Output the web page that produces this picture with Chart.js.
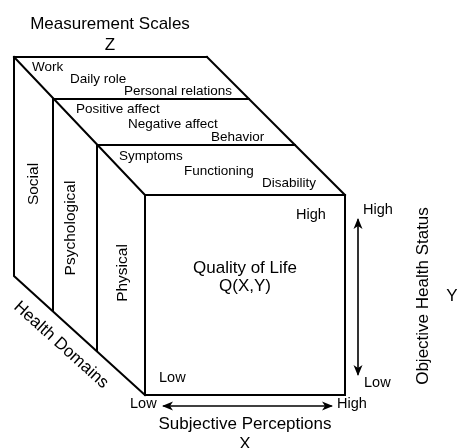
<!DOCTYPE html>
<html>
<head>
<meta charset="utf-8">
<script src="https://cdn.jsdelivr.net/npm/chart.js@4"></script>
<style>
  body { margin: 0; background: #fff; }
  canvas { display: block; }
</style>
</head>
<body>
<canvas id="cube" width="457" height="448"></canvas>
<script>
// Diagram content
const domains = ['Social', 'Psychological', 'Physical'];
const scaleItems = [
    ['Work', 'Daily role', 'Personal relations'],
    ['Positive affect', 'Negative affect', 'Behavior'],
    ['Symptoms', 'Functioning', 'Disability']
];
const levels = ['Low', 'High'];
const zTitle = ['Measurement Scales', 'Z'];
const xTitle = ['Subjective Perceptions', 'X'];
const yTitle = ['Objective Health Status', 'Y'];
const domainTitle = 'Health Domains';
const centreLabel = ['Quality of Life', 'Q(X,Y)'];

// Cube geometry (diagram units = canvas pixels)
const layerLeft = [14, 53, 97, 145];     // left edge of each slab
const layerTop = [57, 99, 145, 195];     // top edge of each slab
const layerBottom = [276, 311, 350, 395];
const layerRight = [207, 249, 295, 345];

const FONT = "'Liberation Sans', Arial, sans-serif";

function seg(points, width) {
    return {
        data: points.map(p => ({ x: p[0], y: p[1] })),
        showLine: true,
        borderColor: '#000',
        borderWidth: width || 2,
        pointRadius: 0,
        borderJoinStyle: 'miter',
        borderCapStyle: 'square',
        clip: false
    };
}

const datasets = [];
// back outline
datasets.push(seg([[layerRight[0], layerTop[0]], [layerLeft[0], layerTop[0]], [layerLeft[0], layerBottom[0]], [layerLeft[3], layerBottom[3]]]));
datasets.push(seg([[layerLeft[0], layerTop[0]], [layerLeft[3], layerTop[3]]]));
datasets.push(seg([[layerRight[0], layerTop[0]], [layerRight[3], layerTop[3]]]));
// inner slabs
for (let i = 1; i < 3; i++) {
    datasets.push(seg([[layerRight[i], layerTop[i]], [layerLeft[i], layerTop[i]], [layerLeft[i], layerBottom[i]]]));
}
// front face
datasets.push(seg([[layerLeft[3], layerTop[3]], [layerRight[3], layerTop[3]], [layerRight[3], layerBottom[3]], [layerLeft[3], layerBottom[3]], [layerLeft[3], layerTop[3]]]));
// axis arrows
const xArrow = [[164, 406], [331, 406]];
const yArrow = [[358, 220], [358, 374]];
datasets.push(seg(xArrow, 1.6));
datasets.push(seg(yArrow, 1.6));

// Text and arrowheads drawn on top through the scales
const labelPlugin = {
    id: 'labels',
    afterDatasetsDraw(chart) {
        const ctx = chart.ctx;
        const sx = chart.scales.x, sy = chart.scales.y;
        const px = v => sx.getPixelForValue(v);
        const py = v => sy.getPixelForValue(v);

        function text(str, x, y, size, align, rot) {
            ctx.save();
            ctx.translate(px(x), py(y));
            if (rot) ctx.rotate(rot * Math.PI / 180);
            ctx.font = size + 'px ' + FONT;
            ctx.fillStyle = '#000';
            ctx.textAlign = align || 'left';
            ctx.textBaseline = 'middle';
            ctx.fillText(str, 0, 0);
            ctx.restore();
        }

        function head(tip, from) {
            const x = px(tip[0]), y = py(tip[1]);
            const a = Math.atan2(y - py(from[1]), x - px(from[0]));
            ctx.save();
            ctx.translate(x, y);
            ctx.rotate(a);
            ctx.beginPath();
            ctx.moveTo(2, 0);
            ctx.lineTo(-9, -4.5);
            ctx.lineTo(-6, 0);
            ctx.lineTo(-9, 4.5);
            ctx.closePath();
            ctx.fillStyle = '#000';
            ctx.fill();
            ctx.restore();
        }

        head(xArrow[0], xArrow[1]);
        head(xArrow[1], xArrow[0]);
        head(yArrow[0], yArrow[1]);
        head(yArrow[1], yArrow[0]);

        // titles
        text(zTitle[0], 110, 24, 17, 'center');
        text(zTitle[1], 110, 45, 17, 'center');
        text(xTitle[0], 245, 424, 17, 'center');
        text(xTitle[1], 245, 444, 17, 'center');
        text(yTitle[0], 423, 296, 17, 'center', -90);
        text(yTitle[1], 452, 296, 17, 'center');
        text(domainTitle, 61, 345, 17, 'center', 42);

        // measurement scales on the top faces
        const itemPos = [
            [[32, 67], [70, 79], [124, 91]],
            [[76, 109], [128, 124], [211, 137]],
            [[119, 156], [184, 171], [262, 183]]
        ];
        scaleItems.forEach((row, i) => row.forEach((s, j) => text(s, itemPos[i][j][0], itemPos[i][j][1], 13.5)));

        // domains on the side faces
        const domPos = [[34, 184], [71, 228], [123, 273]];
        domains.forEach((d, i) => text(d, domPos[i][0], domPos[i][1], 15.5, 'center', -90));

        // front face
        text(centreLabel[0], 245, 268, 17, 'center');
        text(centreLabel[1], 245, 286, 17, 'center');
        text(levels[1], 296, 215, 14.5);
        text(levels[0], 159, 378, 14.5);

        // axis ends
        text(levels[0], 130, 404, 14.5);
        text(levels[1], 337, 404, 14.5);
        text(levels[1], 363, 210, 14.5);
        text(levels[0], 364, 383, 14.5);
    }
};

new Chart(document.getElementById('cube'), {
    type: 'scatter',
    data: { datasets: datasets },
    options: {
        responsive: false,
        animation: false,
        devicePixelRatio: 1,
        layout: { padding: 0 },
        scales: {
            x: { type: 'linear', min: 0, max: 457, display: false },
            y: { type: 'linear', min: 0, max: 448, reverse: true, display: false }
        },
        plugins: {
            legend: { display: false },
            tooltip: { enabled: false }
        }
    },
    plugins: [labelPlugin]
});
</script>
</body>
</html>
